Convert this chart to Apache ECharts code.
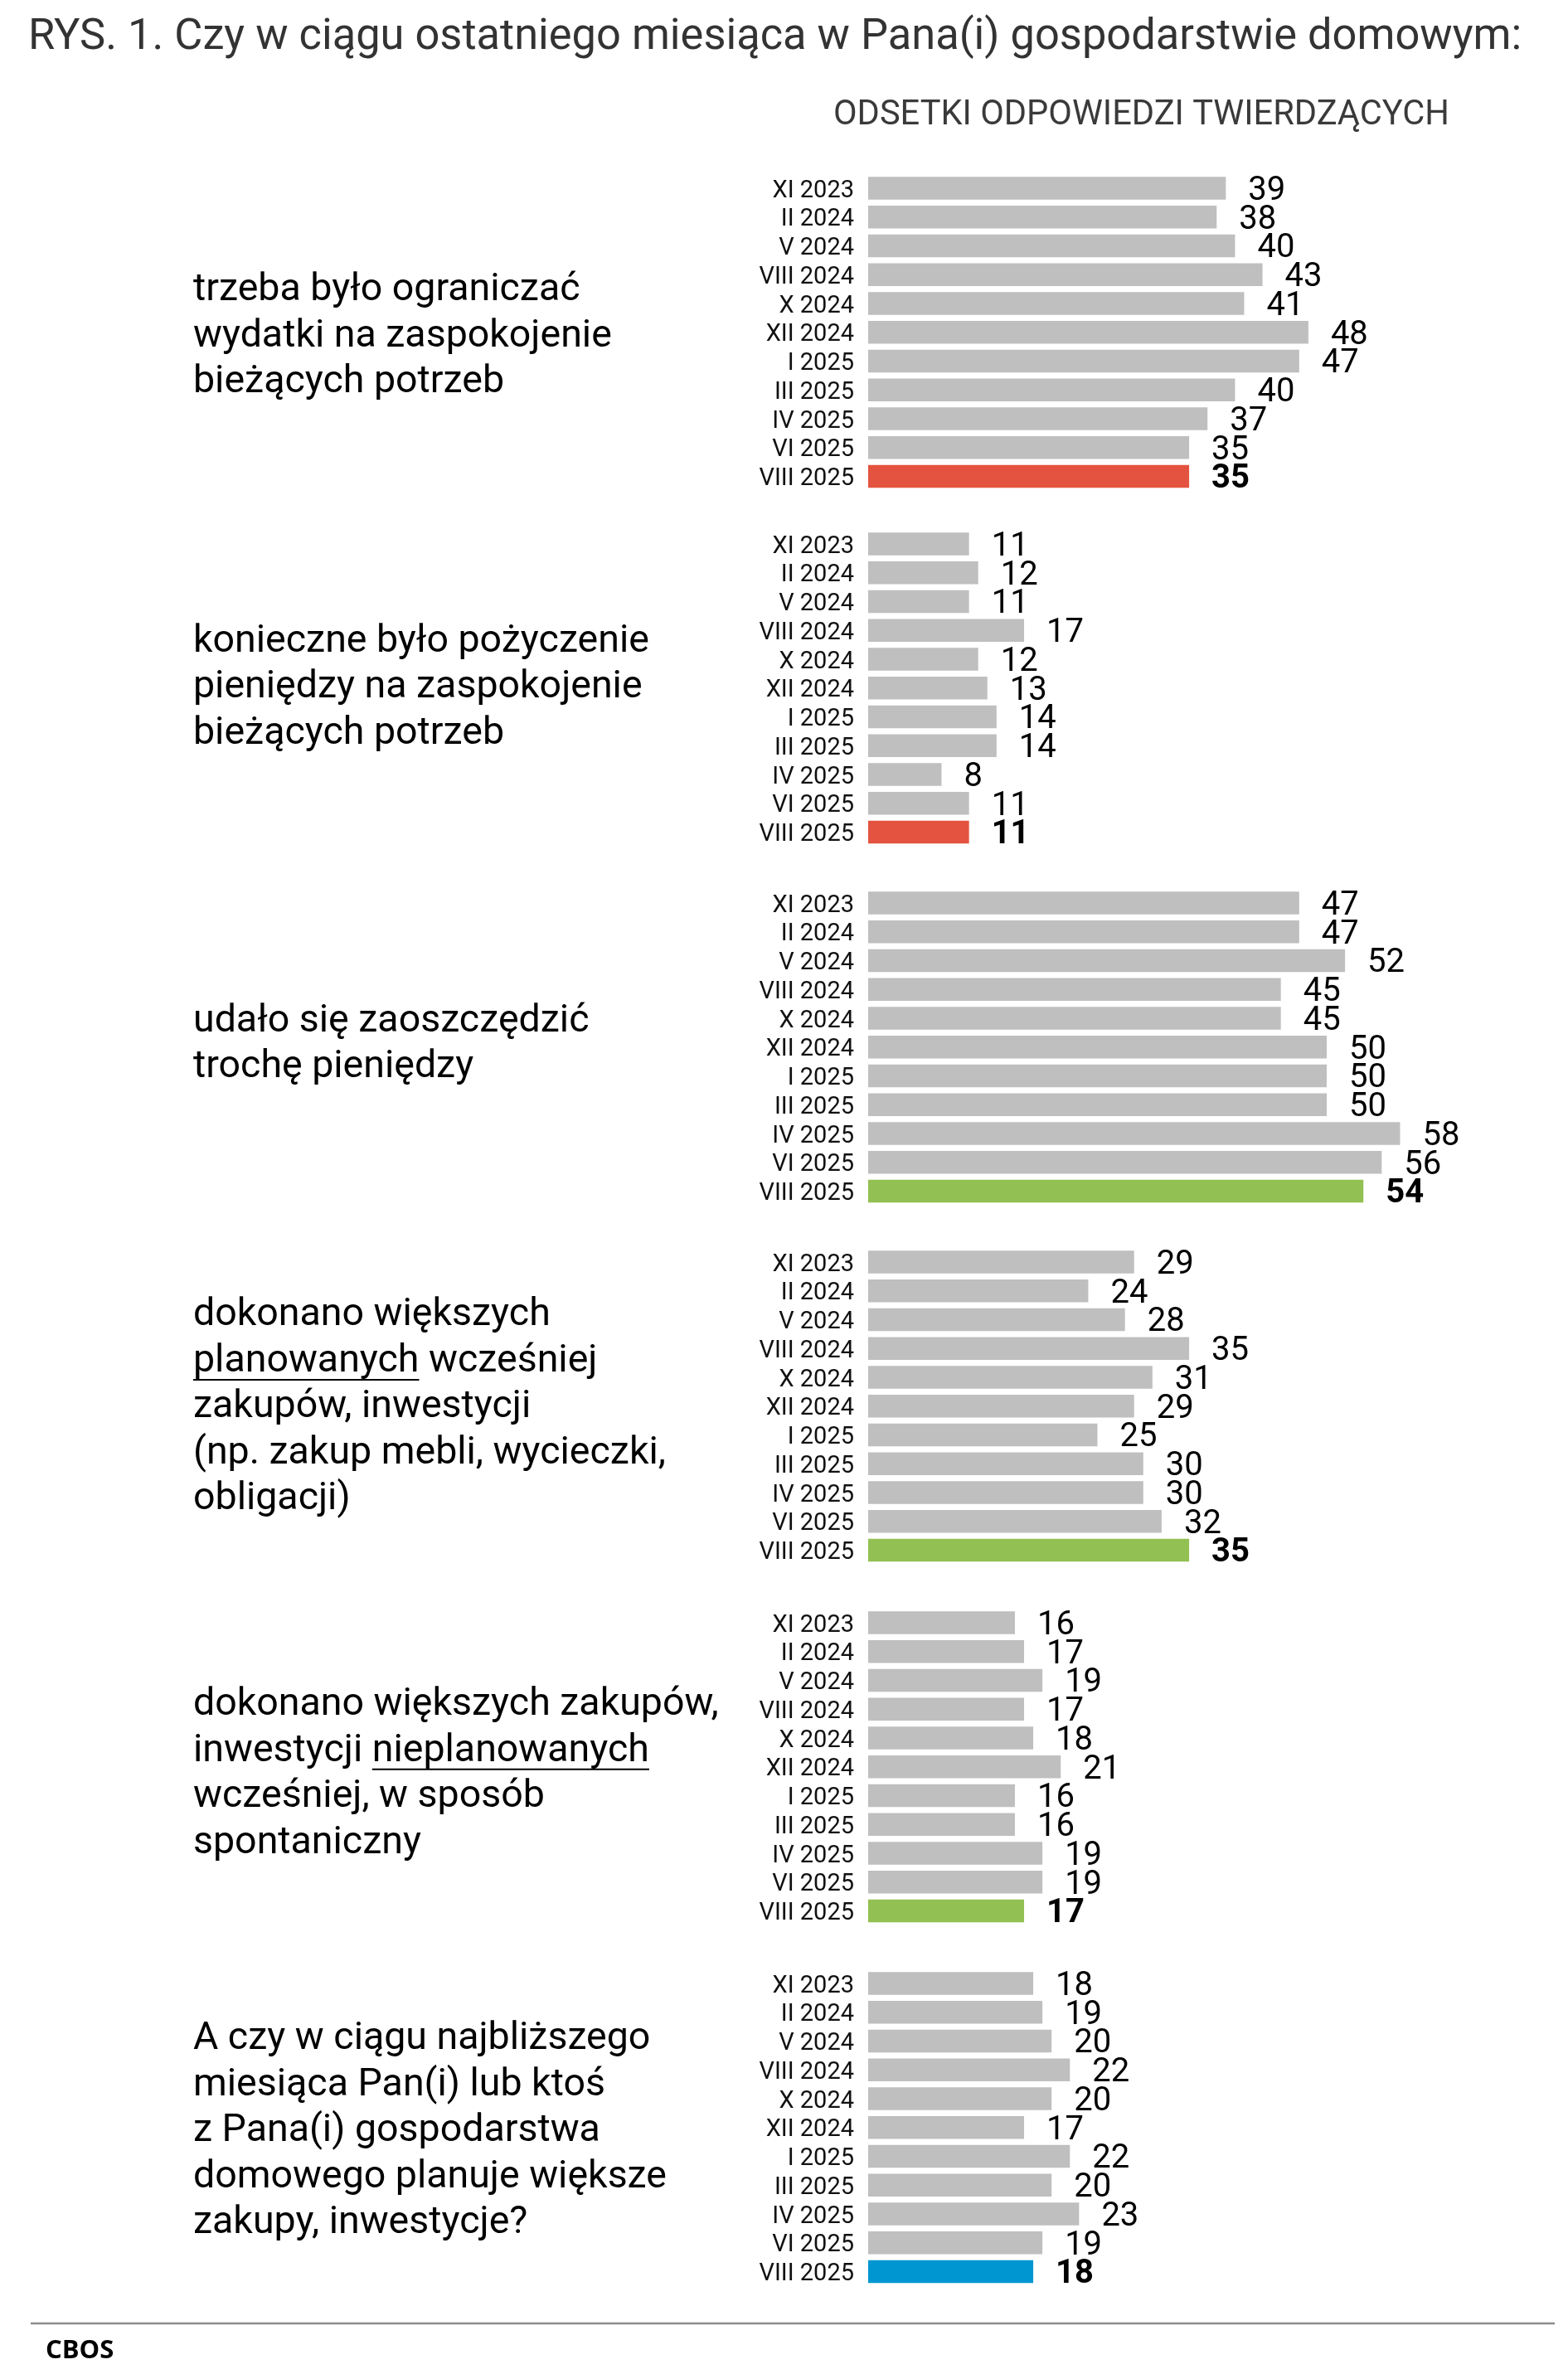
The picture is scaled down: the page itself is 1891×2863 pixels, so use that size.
<!DOCTYPE html>
<html><head><meta charset="utf-8">
<script src="https://cdn.jsdelivr.net/npm/echarts@6/dist/echarts.min.js"></script>
<style>html,body{margin:0;padding:0;background:#fff}#c{width:1891px;height:2863px}</style>
</head><body><div id="c"></div>
<script>
// ---------- DATA ----------
const waves = ['XI 2023','II 2024','V 2024','VIII 2024','X 2024','XII 2024','I 2025','III 2025','IV 2025','VI 2025','VIII 2025'];
const limitSpending      = [39,38,40,43,41,48,47,40,37,35,35];
const borrowMoney        = [11,12,11,17,12,13,14,14,8,11,11];
const savedMoney         = [47,47,52,45,45,50,50,50,58,56,54];
const plannedPurchases   = [29,24,28,35,31,29,25,30,30,32,35];
const unplannedPurchases = [16,17,19,17,18,21,16,16,19,19,17];
const nextMonthPlans     = [18,19,20,22,20,17,22,20,23,19,18];

const q1 = ['trzeba było ograniczać','wydatki na zaspokojenie','bieżących potrzeb'];
const q2 = ['konieczne było pożyczenie','pieniędzy na zaspokojenie','bieżących potrzeb'];
const q3 = ['udało się zaoszczędzić','trochę pieniędzy'];
const q4 = ['dokonano większych','planowanych wcześniej','zakupów, inwestycji','(np. zakup mebli, wycieczki,','obligacji)'];
const q5 = ['dokonano większych zakupów,','inwestycji nieplanowanych','wcześniej, w sposób','spontaniczny'];
const q6 = ['A czy w ciągu najbliższego','miesiąca Pan(i) lub ktoś','z Pana(i) gospodarstwa','domowego planuje większe','zakupy, inwestycje?'];

const titleText = 'RYS. 1. Czy w ciągu ostatniego miesiąca w Pana(i) gospodarstwie domowym:';
const subtitleText = 'ODSETKI ODPOWIEDZI TWIERDZĄCYCH';
const sourceText = 'CBOS';

// ---------- LAYOUT / STYLE ----------
const seriesList = [limitSpending, borrowMoney, savedMoney, plannedPurchases, unplannedPurchases, nextMonthPlans];
const questionList = [q1,q2,q3,q4,q5,q6];
const highlightColors = ['#E4533F','#E4533F','#92C052','#92C052','#92C052','#0096D2'];
// underline: [lineIndex, prefixText, wordText]
const underlines = [null,null,null,[1,'','planowanych'],[1,'inwestycji ','nieplanowanych'],null];
const firstCenters = [227, 656, 1089, 1522, 1957, 2392];
const textOffsets = [5.5, 0, -3, 2, 9, 5];
const rowStep = 34.74;
const gridLeft = 1047;
const pxPerUnit = 11.06;
const xMax = 70;
const qFontSize = 46.5, qLineH = 55.5, qX = 233;
const FONT = 'Roboto';

const grids = [], xAxes = [], yAxes = [], series = [], graphics = [];
const measureCtx = document.createElement('canvas').getContext('2d');
seriesList.forEach((vals, g) => {
  const top = firstCenters[g] - rowStep/2;
  grids.push({left: gridLeft, top: top, width: xMax*pxPerUnit, height: rowStep*waves.length, containLabel: false});
  xAxes.push({gridIndex: g, type: 'value', min: 0, max: xMax, show: false});
  yAxes.push({gridIndex: g, type: 'category', data: waves, inverse: true,
    axisLine: {show: false}, axisTick: {show: false}, splitLine: {show: false},
    axisLabel: {interval: 0, margin: 17,
      formatter: v => '{s| }\n{a|' + v + '}',
      rich: {
        s: {fontSize: 6, lineHeight: 7, height: 7},
        a: {fontFamily: FONT, fontSize: 29, color: '#111', lineHeight: 34, align: 'right'}
      }}});
  series.push({type: 'bar', xAxisIndex: g, yAxisIndex: g, barWidth: 27.5, silent: true, animation: false,
    data: vals.map((v, i) => {
      const last = i === vals.length - 1;
      return {value: v,
        itemStyle: {color: last ? highlightColors[g] : '#BFBFBF'},
        label: {show: true, position: 'right', distance: 27, offset: [0, 4], fontFamily: FONT, fontSize: 40,
          color: '#000', fontWeight: last ? 'bold' : 'normal'}};
    })});
  // question text
  const lines = questionList[g];
  const center = firstCenters[g] + rowStep*(waves.length-1)/2 + textOffsets[g];
  const blockTop = center - lines.length*qLineH/2;
  graphics.push({type: 'text', x: qX, y: blockTop, silent: true,
    style: {text: lines.join('\n'), font: qFontSize + 'px ' + FONT, fill: '#000', lineHeight: qLineH, verticalAlign: 'top'}});
  const u = underlines[g];
  if (u) {
    measureCtx.font = qFontSize + 'px ' + FONT;
    const x0 = qX + measureCtx.measureText(u[1]).width;
    const w = measureCtx.measureText(u[2]).width;
    const lineMid = blockTop + qLineH*(u[0] + 0.5);
    const yU = lineMid + 0.34*qFontSize + 6;
    graphics.push({type: 'line', silent: true, shape: {x1: x0, y1: yU, x2: x0 + w, y2: yU},
      style: {stroke: '#000', lineWidth: 2}});
  }
});

graphics.push({type: 'text', x: 34, y: 45.5, silent: true,
  style: {text: titleText, font: '52.4px ' + FONT, fill: '#333', verticalAlign: 'middle'}});
graphics.push({type: 'text', x: 1005, y: 140, silent: true,
  style: {text: subtitleText, font: '41.6px ' + FONT, fill: '#3a3a3a', verticalAlign: 'middle'}});
graphics.push({type: 'line', silent: true, shape: {x1: 37, y1: 2802, x2: 1875, y2: 2802},
  style: {stroke: '#8c8c8c', lineWidth: 2.5}});
graphics.push({type: 'text', x: 55, y: 2835, silent: true,
  style: {text: sourceText, font: 'bold 31px "Open Sans"', fill: '#000', verticalAlign: 'middle'}});

const chart = echarts.init(document.getElementById('c'), null, {renderer: 'canvas'});
chart.setOption({
  animation: false,
  backgroundColor: '#fff',
  grid: grids, xAxis: xAxes, yAxis: yAxes, series: series,
  graphic: graphics
});
</script></body></html>
